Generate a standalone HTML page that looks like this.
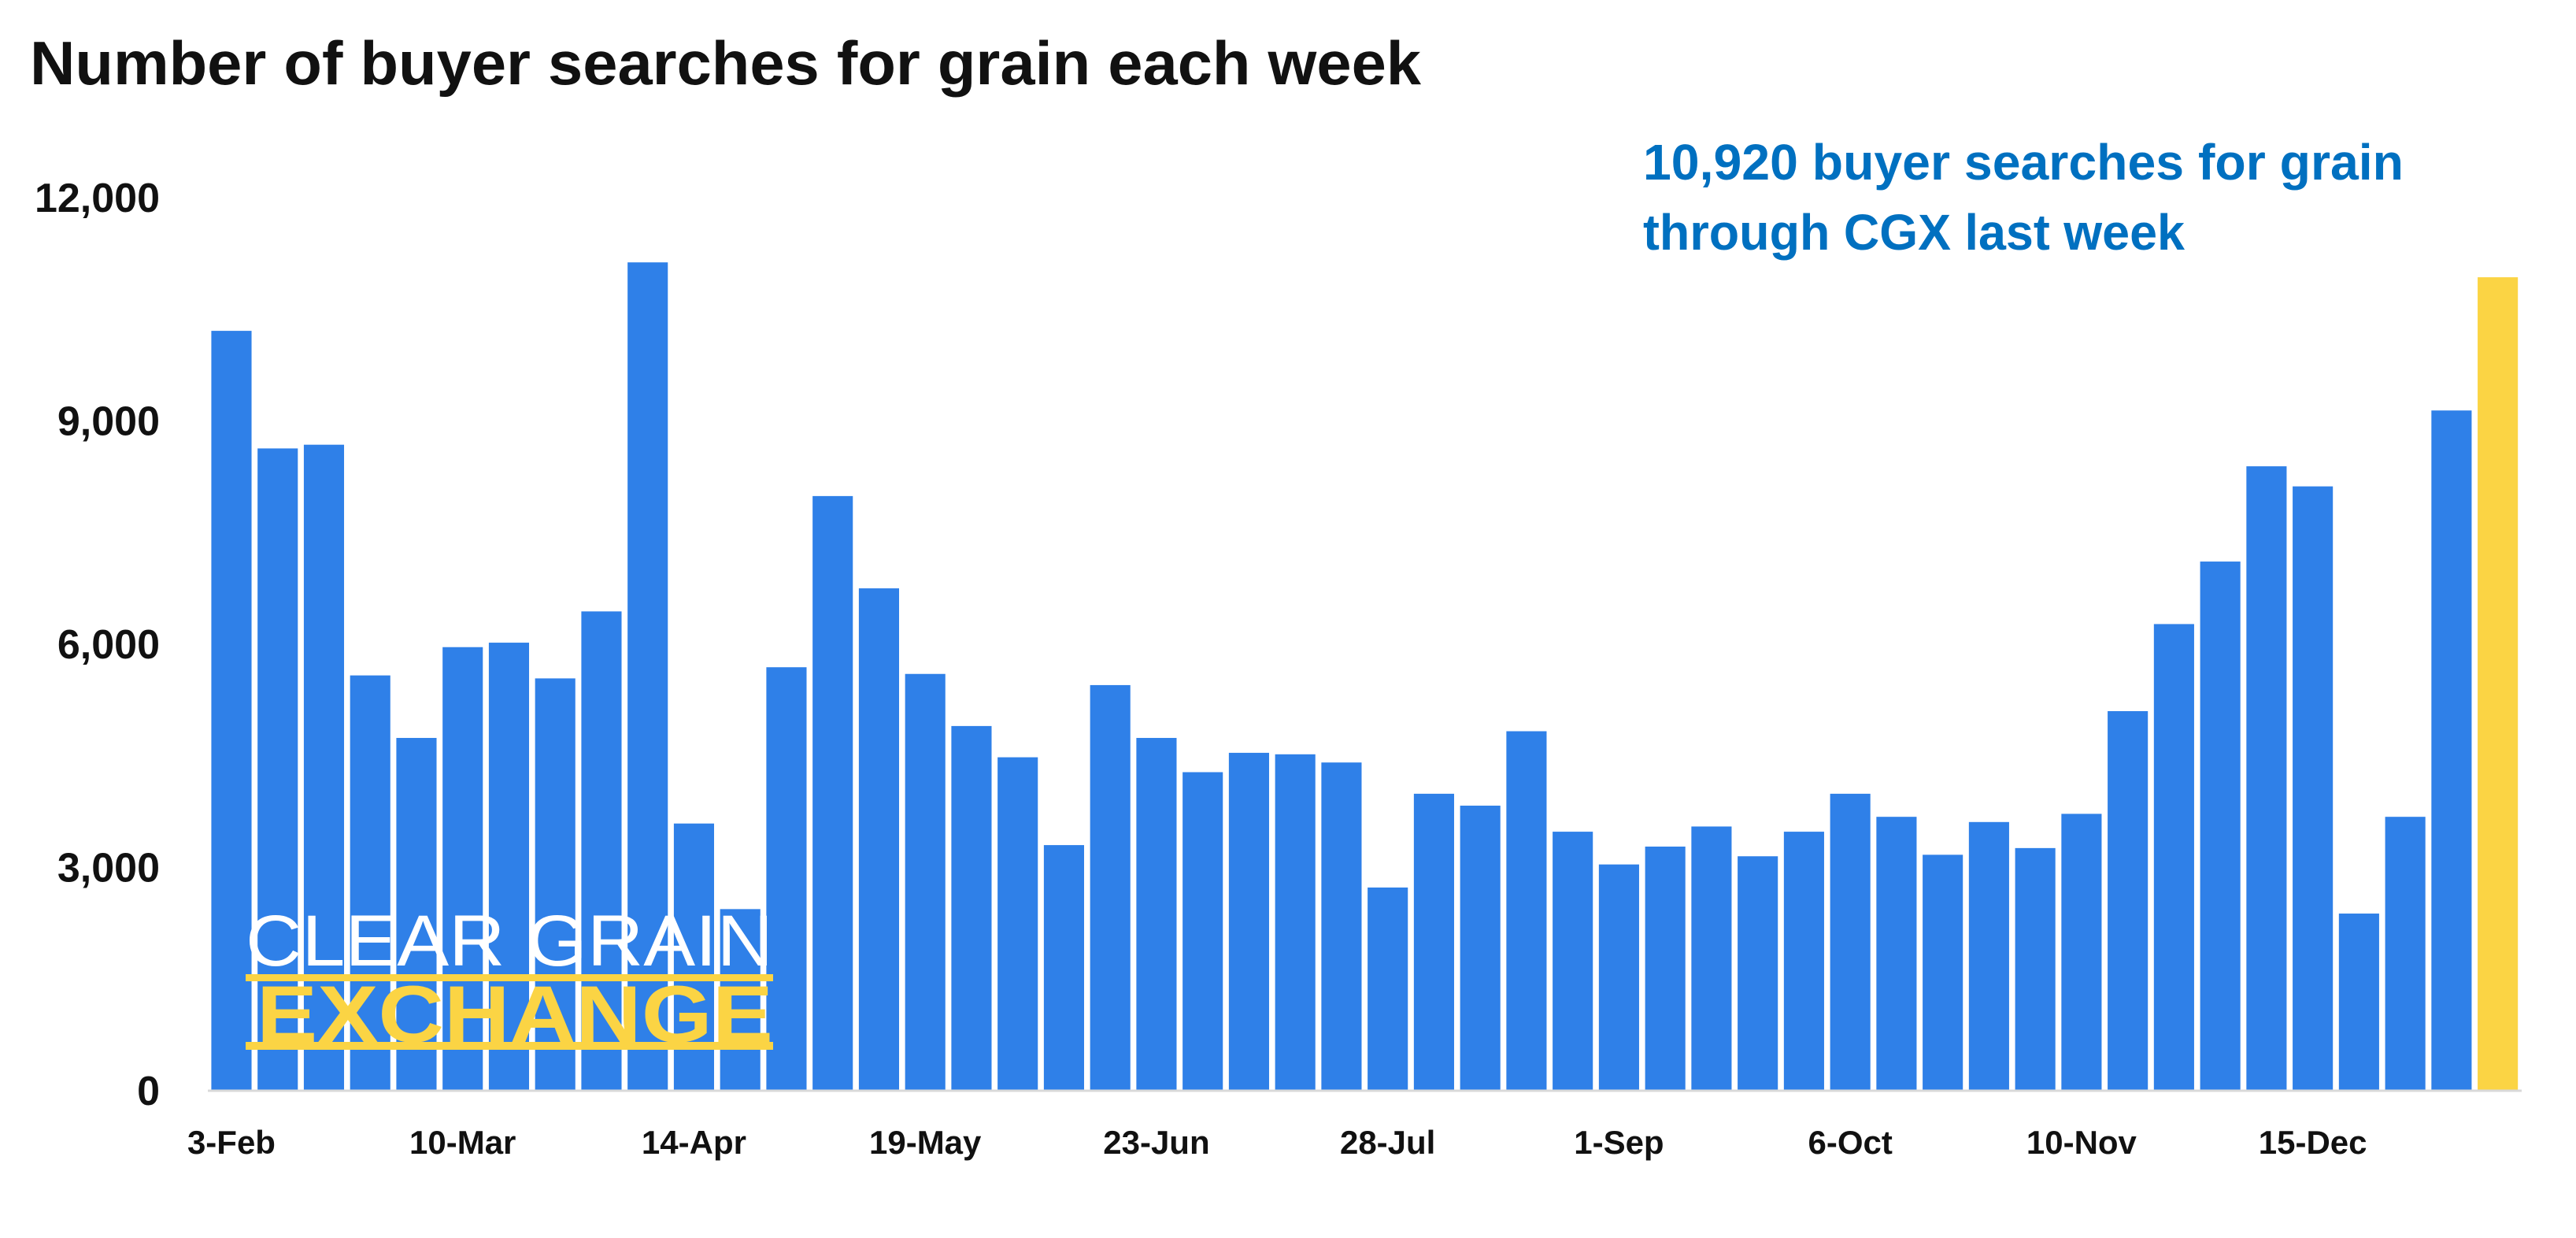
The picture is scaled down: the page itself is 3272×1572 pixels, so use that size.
<!DOCTYPE html>
<html><head><meta charset="utf-8"><style>
html,body{margin:0;padding:0;background:#fff;}
svg{display:block;font-family:"Liberation Sans",sans-serif;}
</style></head><body>
<svg id="chart" width="3272" height="1572" viewBox="0 0 3272 1572">
<text x="38" y="107" font-size="78" font-weight="bold" fill="#111" textLength="1767" lengthAdjust="spacingAndGlyphs">Number of buyer searches for grain each week</text>
<g id="ygrid"></g>
<g id="bars"></g>
<line x1="264" y1="1385" x2="3203" y2="1385" stroke="#d9d9d9" stroke-width="3"/>
<g id="xlabels"></g>
<g>
<text x="2087" y="228" font-size="64" font-weight="bold" fill="#0070C0" textLength="966" lengthAdjust="spacingAndGlyphs">10,920  buyer searches for grain</text>
<text x="2087" y="317" font-size="64" font-weight="bold" fill="#0070C0" textLength="688" lengthAdjust="spacingAndGlyphs">through CGX last week</text>
</g>
<g>
<text x="312" y="1226" font-size="92" fill="#fff" textLength="670" lengthAdjust="spacingAndGlyphs">CLEAR GRAIN</text>
<rect x="312" y="1237" width="670" height="9" fill="#FBD444"/>
<text x="326" y="1323" font-size="102" font-weight="bold" fill="#FBD444" textLength="656" lengthAdjust="spacingAndGlyphs">EXCHANGE</text>
<rect x="312" y="1323" width="670" height="10" fill="#FBD444"/>
</g>
</svg>
<script>
const values = [10200,8620,8670,5570,4730,5950,6010,5530,6430,11120,3580,2430,5680,7980,6740,5590,4890,4470,3290,5440,4730,4270,4530,4510,4400,2720,3980,3820,4820,3470,3030,3270,3540,3140,3470,3980,3670,3160,3600,3250,3710,5090,6260,7100,8380,8110,2370,3670,9130,10920];
const xTickIndex = [0,5,10,15,20,25,30,35,40,45];
const xTickLabels = ["3-Feb","10-Mar","14-Apr","19-May","23-Jun","28-Jul","1-Sep","6-Oct","10-Nov","15-Dec"];
const yTicks = [0,3000,6000,9000,12000];
const yTickLabels = ["0","3,000","6,000","9,000","12,000"];
const highlightIndex = 49;

const NS="http://www.w3.org/2000/svg";
const plotL=264.6, plotR=3202, y0=1384, y12=250, yMax=12000;
const slot=(plotR-plotL)/values.length;
function xc(i){return plotL+slot*(i+0.5);}
function ys(v){return y0-(v/yMax)*(y0-y12);}
const bars=document.getElementById('bars');
values.forEach((v,i)=>{
  const r=document.createElementNS(NS,'rect');
  const w=slot*0.87;
  r.setAttribute('x',xc(i)-w/2);
  r.setAttribute('y',ys(v));
  r.setAttribute('width',w);
  r.setAttribute('height',y0-ys(v));
  r.setAttribute('fill',i===highlightIndex?'#FBD444':'#2F80E8');
  
  
  bars.appendChild(r);
});
const yg=document.getElementById('ygrid');
yTicks.forEach((t,i)=>{
  const tx=document.createElementNS(NS,'text');
  tx.setAttribute('x',203);
  tx.setAttribute('y',ys(t)+19);
  tx.setAttribute('text-anchor','end');
  tx.setAttribute('font-size','52');
  tx.setAttribute('font-weight','bold');
  tx.setAttribute('fill','#111');
  tx.textContent=yTickLabels[i];
  
  
  yg.appendChild(tx);
});
const xl=document.getElementById('xlabels');
xTickIndex.forEach((idx,i)=>{
  const tx=document.createElementNS(NS,'text');
  tx.setAttribute('x',xc(idx));
  tx.setAttribute('y',1465);
  tx.setAttribute('text-anchor','middle');
  tx.setAttribute('font-size','42');
  tx.setAttribute('font-weight','bold');
  tx.setAttribute('fill','#111');
  tx.textContent=xTickLabels[i];
  
  
  xl.appendChild(tx);
});
</script>
</body></html>
